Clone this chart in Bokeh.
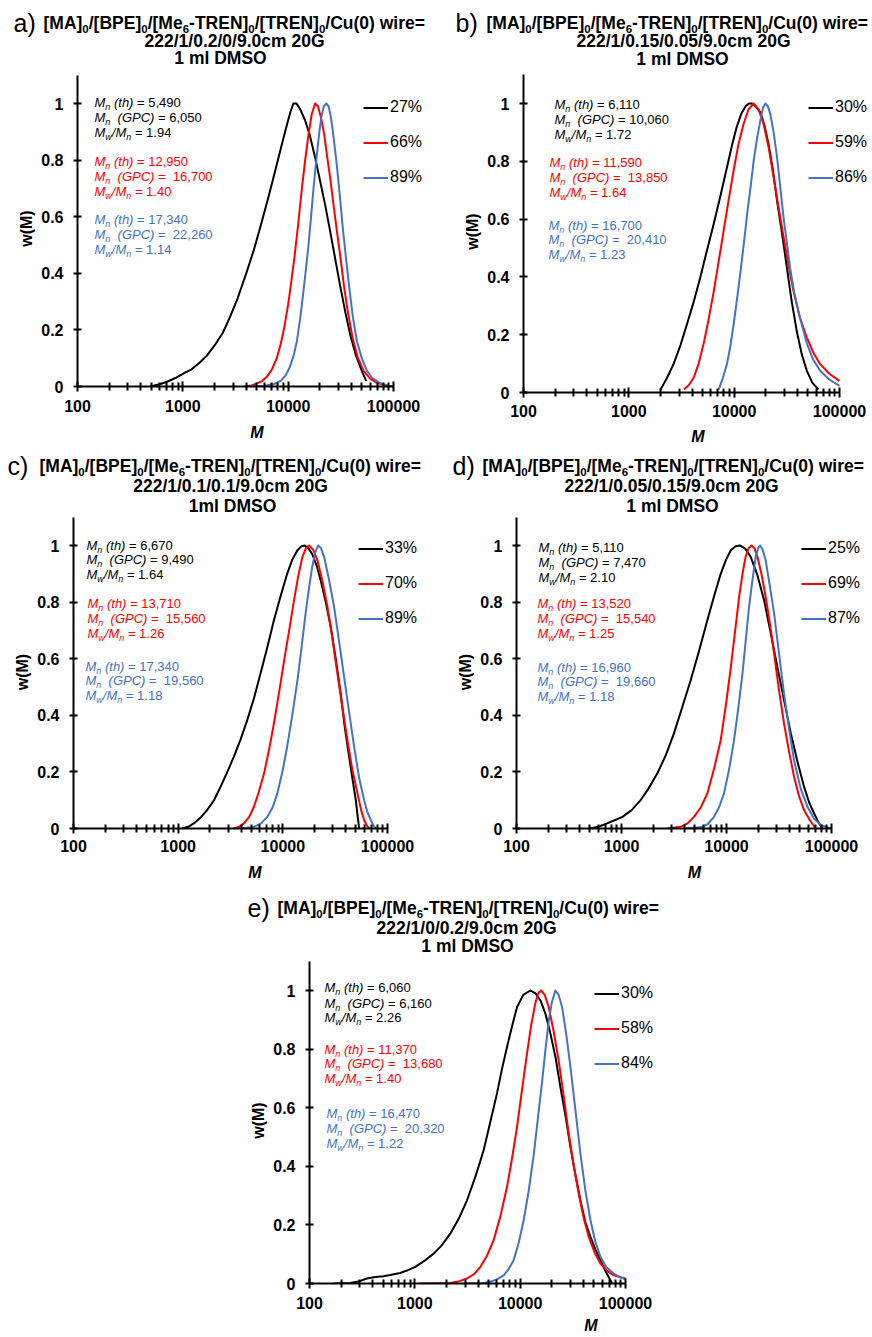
from bokeh.plotting import figure
from bokeh.models import (Range1d, FixedTicker, PrintfTickFormatter, CustomJSTickFormatter,
                          Legend, LegendItem, ColumnDataSource)
from bokeh.layouts import column, row
from bokeh.embed import file_html
from bokeh.resources import INLINE
from bokeh.core.properties import value, field

FONT = "Liberation Sans"
BLACK, RED, BLUE = "#000000", "#FF0000", "#4472C4"

# ---------------- data ----------------
X_TICKS = [100, 1000, 10000, 100000]
X_MINOR = [200, 300, 400, 500, 600, 700, 800, 900,
           2000, 3000, 4000, 5000, 6000, 7000, 8000, 9000,
           20000, 30000, 40000, 50000, 60000, 70000, 80000, 90000]
Y_TICKS = [0, 0.2, 0.4, 0.6, 0.8, 1.0]

# panel a
a_M_27 = [490, 600, 700, 850, 1000, 1200, 1450, 1700, 2000, 2400, 2800, 3300, 4000, 4700, 5500, 6500,
          7500, 8500, 9500, 10500, 11200, 12000, 13000, 14500, 16000, 18000, 20000, 22500, 25000,
          28000, 31000, 35000, 39000, 44000, 50000, 55000]
a_w_27 = [0.0, 0.008, 0.016, 0.03, 0.045, 0.06, 0.085, 0.11, 0.145, 0.19, 0.245, 0.31, 0.40, 0.48,
          0.57, 0.67, 0.76, 0.84, 0.91, 0.97, 1.0, 1.0, 0.98, 0.94, 0.89, 0.81, 0.73, 0.64, 0.55,
          0.45, 0.36, 0.26, 0.18, 0.11, 0.055, 0.02]
a_M_66 = [3900, 4500, 5000, 5700, 6300, 7000, 7800, 8500, 9200, 10000, 10700, 11500, 12500, 13500,
          14500, 15600, 16700, 18000, 19200, 20500, 22000, 23500, 25000, 27000, 29000, 31500, 34000,
          37000, 41000, 46000, 52000, 60000, 70000, 82000, 96000]
a_w_66 = [0.0, 0.004, 0.01, 0.02, 0.035, 0.06, 0.10, 0.15, 0.21, 0.29, 0.37, 0.46, 0.58, 0.70,
          0.80, 0.89, 0.96, 1.0, 0.99, 0.95, 0.89, 0.81, 0.74, 0.64, 0.55, 0.45, 0.35,
          0.26, 0.17, 0.10, 0.055, 0.028, 0.013, 0.005, 0.0]
a_M_89 = [4000, 6000, 7500, 8500, 9500, 10400, 11300, 12100, 13000, 13900, 14800, 15600, 16500,
          17400, 18500, 19500, 20600, 21800, 23000, 24200, 25500, 27000, 29000, 31000, 33000, 35500,
          38000, 41000, 45000, 50000, 56000, 63000, 74000, 86000, 100000]
a_w_89 = [0.0, 0.003, 0.01, 0.02, 0.04, 0.07, 0.11, 0.16, 0.24, 0.33, 0.42, 0.50, 0.60,
          0.70, 0.80, 0.88, 0.95, 0.99, 1.0, 0.99, 0.95, 0.88, 0.78, 0.67, 0.56, 0.45,
          0.35, 0.25, 0.16, 0.10, 0.055, 0.03, 0.013, 0.004, 0.0]

# panel b
b_M_30 = [2000, 2300, 2670, 3100, 3570, 4100, 4780, 5500, 6400, 7400, 8560, 9600, 10600, 11700,
          12800, 13800, 14800, 16000, 17700, 19500, 21200, 23300, 25500, 28500, 31700, 35000, 39400,
          44000, 49000, 55000, 63000]
b_w_30 = [0.01, 0.05, 0.10, 0.165, 0.237, 0.31, 0.40, 0.49, 0.584, 0.68, 0.78, 0.86, 0.92, 0.965,
          0.99, 1.0, 1.0, 0.99, 0.97, 0.92, 0.86, 0.77, 0.665, 0.55, 0.43, 0.32, 0.21,
          0.13, 0.075, 0.035, 0.01]
b_M_59 = [3330, 3700, 4140, 4600, 5140, 5700, 6400, 7100, 7950, 8900, 9900, 11000, 12300, 13700,
          15300, 17000, 19000, 21200, 23700, 26400, 29400, 32800, 36600, 42000, 49000, 57000, 65600,
          80000, 100000]
b_w_59 = [0.01, 0.025, 0.052, 0.10, 0.17, 0.25, 0.35, 0.45, 0.56, 0.67, 0.77, 0.86, 0.93, 0.98,
          1.0, 0.98, 0.93, 0.85, 0.745, 0.64, 0.54, 0.44, 0.35, 0.26, 0.19, 0.135, 0.098,
          0.065, 0.04]
b_M_86 = [7130, 7800, 8560, 9200, 9900, 10700, 11500, 12400, 13300, 14300, 15300, 16500, 17700,
          18800, 19800, 20900, 22000, 23700, 25500, 27400, 29400, 31600, 34000, 37000, 40800, 45000,
          49000, 56000, 65600, 80000, 100000]
b_w_86 = [0.01, 0.05, 0.10, 0.16, 0.237, 0.33, 0.42, 0.52, 0.62, 0.71, 0.80, 0.88, 0.94,
          0.985, 1.0, 0.99, 0.965, 0.90, 0.815, 0.71, 0.607, 0.52, 0.43, 0.35, 0.28, 0.22,
          0.17, 0.115, 0.075, 0.045, 0.023]

# panel c
c_M_33 = [1090, 1250, 1410, 1650, 1890, 2200, 2540, 2950, 3400, 3950, 4570, 5300, 6120, 7100, 8220,
          9500, 11000, 12300, 13800, 15000, 16200, 17600, 19100, 21000, 23000, 25700, 28700, 32000,
          35700, 39000, 43000, 46500, 49800, 52000, 53600]
c_w_33 = [0.0, 0.006, 0.018, 0.04, 0.065, 0.10, 0.147, 0.20, 0.253, 0.315, 0.383, 0.46, 0.548, 0.64,
          0.736, 0.82, 0.90, 0.95, 0.983, 0.997, 1.0, 0.99, 0.97, 0.93, 0.877, 0.80, 0.713, 0.60,
          0.477, 0.36, 0.253, 0.17, 0.10, 0.04, 0.0]
c_M_70 = [3400, 3800, 4250, 4750, 5300, 5900, 6610, 7400, 8220, 9200, 10300, 11500, 12800, 14000,
          15400, 16600, 17800, 19500, 21400, 24000, 26700, 29800, 33200, 37000, 41400, 46000, 51600,
          56000, 59800, 63000, 66800]
c_w_70 = [0.0, 0.005, 0.018, 0.04, 0.077, 0.13, 0.194, 0.28, 0.371, 0.48, 0.595, 0.70, 0.807, 0.89,
          0.96, 0.99, 1.0, 0.985, 0.948, 0.87, 0.783, 0.67, 0.548, 0.43, 0.312, 0.21, 0.124,
          0.065, 0.03, 0.012, 0.0]
c_M_89 = [3950, 5300, 6200, 7100, 8000, 8850, 9900, 11000, 12300, 13800, 15100, 16500, 17800, 19100,
          20400, 21700, 23200, 24800, 27600, 30900, 34500, 38500, 43000, 48000, 53500, 59800, 64000,
          69200, 73000, 77300]
c_w_89 = [0.0, 0.006, 0.018, 0.041, 0.075, 0.124, 0.20, 0.289, 0.40, 0.524, 0.64, 0.76, 0.85, 0.925,
          0.975, 1.0, 0.99, 0.96, 0.88, 0.783, 0.66, 0.536, 0.41, 0.289, 0.18, 0.10, 0.06,
          0.03, 0.012, 0.0]

# panel d
d_M_25 = [507, 620, 730, 870, 1020, 1250, 1520, 1800, 2190, 2650, 3160, 3800, 4560, 5500, 6570, 7600,
          8810, 9900, 11000, 12200, 13400, 15000, 17000, 19700, 22800, 26400, 30500, 35500, 41000,
          47500, 54800, 61500, 68300, 75000, 82000]
d_w_25 = [0.0, 0.008, 0.018, 0.03, 0.041, 0.065, 0.10, 0.14, 0.194, 0.26, 0.336, 0.43, 0.524, 0.63,
          0.736, 0.82, 0.90, 0.95, 0.983, 0.997, 1.0, 0.99, 0.96, 0.895, 0.807, 0.69, 0.571, 0.45,
          0.336, 0.235, 0.147, 0.09, 0.053, 0.022, 0.0]
d_M_69 = [2730, 3660, 4250, 4900, 5700, 6570, 7600, 8810, 9900, 11000, 12100, 13200, 14200, 15200,
          16200, 17300, 18500, 19700, 21500, 23600, 26000, 28400, 31600, 35300, 39500, 44000, 49000,
          54800, 62000, 70800]
d_w_69 = [0.0, 0.006, 0.018, 0.041, 0.075, 0.124, 0.21, 0.312, 0.44, 0.571, 0.70, 0.819, 0.90, 0.96,
          0.99, 1.0, 0.99, 0.96, 0.90, 0.819, 0.72, 0.618, 0.49, 0.371, 0.27, 0.183, 0.115,
          0.065, 0.03, 0.0]
d_M_87 = [3940, 5680, 6600, 7600, 8500, 9470, 10600, 11800, 13000, 14200, 15300, 16400, 17700, 19000,
          20000, 20900, 22100, 23600, 25800, 28400, 31600, 35300, 39500, 44000, 51000, 59000, 68000,
          79100, 98400]
d_w_87 = [0.0, 0.004, 0.015, 0.041, 0.075, 0.124, 0.21, 0.312, 0.43, 0.548, 0.67, 0.783, 0.88, 0.96,
          0.99, 1.0, 0.985, 0.948, 0.86, 0.76, 0.62, 0.477, 0.35, 0.241, 0.14, 0.077, 0.035,
          0.012, 0.0]

# panel e
e_M_30 = [169, 243, 300, 350, 420, 505, 600, 727, 850, 1010, 1230, 1510, 1800, 2170, 2600, 3130, 3800,
          4500, 5200, 6020, 6700, 7500, 8400, 9330, 10700, 12500, 14000, 15600, 17400, 19400, 21700,
          24100, 27000, 30000, 33500, 37300, 41500, 46500, 52000, 57800, 65000, 74700]
e_w_30 = [0.0, 0.002, 0.008, 0.017, 0.022, 0.025, 0.03, 0.036, 0.045, 0.057, 0.077, 0.102, 0.13, 0.17,
          0.22, 0.284, 0.37, 0.455, 0.55, 0.648, 0.73, 0.807, 0.88, 0.943, 0.985, 1.0, 0.99, 0.966,
          0.92, 0.852, 0.77, 0.67, 0.57, 0.466, 0.37, 0.284, 0.21, 0.159, 0.115, 0.08, 0.04, 0.0]
e_M_58 = [1090, 2170, 2650, 3130, 3650, 4190, 4850, 5600, 6500, 7500, 8400, 9330, 10400, 11600, 12700,
          13900, 14800, 15800, 17100, 18700, 20800, 23200, 25900, 28900, 32300, 36000, 40000, 44800,
          51000, 57800, 67000, 77400, 88000, 100000]
e_w_58 = [0.0, 0.002, 0.008, 0.017, 0.032, 0.057, 0.095, 0.148, 0.23, 0.33, 0.43, 0.534, 0.66, 0.784,
          0.88, 0.955, 0.99, 1.0, 0.985, 0.943, 0.86, 0.761, 0.64, 0.511, 0.40, 0.307, 0.225, 0.159,
          0.105, 0.068, 0.043, 0.028, 0.022, 0.017]
e_M_84 = [2900, 4500, 5210, 6000, 6980, 7800, 8690, 9700, 10800, 12100, 13500, 14800, 16200, 17400,
          18700, 20000, 21600, 23200, 25000, 27400, 30000, 33500, 37300, 41500, 46500, 51500, 57800,
          66000, 77400, 88000, 100000]
e_w_84 = [0.0, 0.002, 0.006, 0.014, 0.028, 0.05, 0.08, 0.14, 0.216, 0.32, 0.443, 0.57, 0.693, 0.80,
          0.898, 0.96, 1.0, 0.985, 0.943, 0.85, 0.739, 0.59, 0.443, 0.32, 0.216, 0.145, 0.091,
          0.055, 0.034, 0.022, 0.014]

# annotation values: (Mn th, Mn GPC, Mw/Mn) for black, red, blue
a_ann = [("5,490", "6,050", "1.94"), ("12,950", "16,700", "1.40"), ("17,340", "22,260", "1.14")]
b_ann = [("6,110", "10,060", "1.72"), ("11,590", "13,850", "1.64"), ("16,700", "20,410", "1.23")]
c_ann = [("6,670", "9,490", "1.64"), ("13,710", "15,560", "1.26"), ("17,340", "19,560", "1.18")]
d_ann = [("5,110", "7,470", "2.10"), ("13,520", "15,540", "1.25"), ("16,960", "19,660", "1.18")]
e_ann = [("6,060", "6,160", "2.26"), ("11,370", "13,680", "1.40"), ("16,470", "20,320", "1.22")]

conditions = ["222/1/0.2/0/9.0cm 20G", "222/1/0.15/0.05/9.0cm 20G", "222/1/0.1/0.1/9.0cm 20G",
              "222/1/0.05/0.15/9.0cm 20G", "222/1/0/0.2/9.0cm 20G"]
solvents = ["1 ml DMSO", "1 ml DMSO", "1ml DMSO", "1 ml DMSO", "1 ml DMSO"]
letters = ["a)", "b)", "c)", "d)", "e)"]

# ---------------- text metrics (Arial-compatible) ----------------
REG_W = {' ': 278, '%': 889, '(': 333, ')': 333, ',': 278, '-': 333, '.': 278, '/': 278, '=': 584,
         '[': 278, ']': 278, 'A': 667, 'B': 667, 'C': 722, 'D': 722, 'E': 667, 'G': 778, 'M': 833,
         'N': 722, 'O': 778, 'P': 667, 'R': 722, 'S': 667, 'T': 611, 'a': 556, 'c': 500, 'd': 556,
         'e': 556, 'h': 556, 'i': 222, 'l': 222, 'm': 833, 'n': 556, 'r': 333, 't': 278, 'u': 556,
         'w': 722}
BOLD_W = {' ': 278, '%': 889, '(': 333, ')': 333, ',': 278, '-': 333, '.': 278, '/': 278, '=': 584,
          '[': 333, ']': 333, 'A': 722, 'B': 722, 'C': 722, 'D': 722, 'E': 667, 'G': 778, 'M': 833,
          'N': 722, 'O': 778, 'P': 667, 'R': 722, 'S': 667, 'T': 611, 'a': 556, 'c': 556, 'd': 611,
          'e': 556, 'h': 611, 'i': 278, 'l': 278, 'm': 889, 'n': 611, 'r': 389, 't': 333, 'u': 611,
          'w': 778}


def tw(s, size, bold=False):
    t = BOLD_W if bold else REG_W
    return sum(t.get(ch, 556) for ch in s) * size / 1000.0


def run(items, x0, y, color, out):
    x = x0
    for text, size, style, dy in items:
        bold = "bold" in style
        stripped = text.lstrip(" ")
        x += (len(text) - len(stripped)) * tw(" ", size, bold)
        out.append(dict(text=stripped, px=x, py=y + dy, size=size, style=style, color=color, align="left"))
        x += tw(stripped, size, bold)
    return x


AS, SS, SDY = 13, 9, 4          # annotation size, subscript size, subscript shift
TS, TSS, TDY = 17.5, 11.5, 6    # title size, title subscript size, shift


def ann_block(vals, x0, ys, color, double, out):
    th, gpc, disp = vals
    run([("M", AS, "italic", 0), ("n", SS, "italic", SDY), (" (th)", AS, "italic", 0),
         (" =", AS, "normal", 0), (" " + th, AS, "normal", 0)], x0, ys[0], color, out)
    run([("M", AS, "italic", 0), ("n", SS, "italic", SDY), ("  (GPC)", AS, "italic", 0),
         (" =", AS, "normal", 0), (("  " if double else " ") + gpc, AS, "normal", 0)], x0, ys[1], color, out)
    run([("M", AS, "italic", 0), ("w", SS, "italic", SDY), ("/M", AS, "italic", 0),
         ("n", SS, "italic", SDY), (" =", AS, "normal", 0), (" " + disp, AS, "normal", 0)], x0, ys[2], color, out)


def title_block(letter, cond, solv, T, out):
    out.append(dict(text=letter, px=T["lx"], py=T["y1"], size=25, style="normal", color=BLACK, align="left"))
    run([("[MA]", TS, "bold", 0), ("0", TSS, "bold", TDY), ("/[BPE]", TS, "bold", 0), ("0", TSS, "bold", TDY),
         ("/[Me", TS, "bold", 0), ("6", TSS, "bold", TDY), ("-TREN]", TS, "bold", 0), ("0", TSS, "bold", TDY),
         ("/[TREN]", TS, "bold", 0), ("0", TSS, "bold", TDY), ("/Cu(0) wire=", TS, "bold", 0)],
        T["x1"], T["y1"], BLACK, out)
    out.append(dict(text=cond, px=T["c2"], py=T["y2"], size=TS, style="bold", color=BLACK, align="center"))
    out.append(dict(text=solv, px=T["c3"], py=T["y3"], size=TS, style="bold", color=BLACK, align="center"))


# geometry in page pixels: panel box (ox, oy, w), title strip height th, frame edges, tick positions
PANELS = [
    dict(series=[(a_M_27, a_w_27, "27%"), (a_M_66, a_w_66, "66%"), (a_M_89, a_w_89, "89%")], ann=a_ann,
         ox=0, oy=0, w=436, th=70, left=77, right=436, bottom=386, x5=393, y1=103, bb=62, s1=8, s2=9,
         leg=(286, 191.5), annx=(94, 94, 94), anny=((102, 117, 132), (161, 176, 191), (219, 234, 249)),
         T=dict(lx=13, x1=43, y1=22, c2=234, y2=40, c3=220, y3=57)),
    dict(series=[(b_M_30, b_w_30, "30%"), (b_M_59, b_w_59, "59%"), (b_M_86, b_w_86, "86%")], ann=b_ann,
         ox=436, oy=0, w=436, th=70, left=523, right=872, bottom=392, x5=839, y1=103, bb=56, s1=7, s2=8,
         leg=(285, 197.5), annx=(554, 549, 548), anny=((104, 119, 134), (162, 177, 192), (225, 239, 254)),
         T=dict(lx=455, x1=486, y1=22, c2=683, y2=40, c3=682, y3=58)),
    dict(series=[(c_M_33, c_w_33, "33%"), (c_M_70, c_w_70, "70%"), (c_M_89, c_w_89, "89%")], ann=c_ann,
         ox=0, oy=448, w=436, th=67, left=73, right=436, bottom=828, x5=387, y1=545, bb=56, s1=6, s2=9,
         leg=(285, 192.5), annx=(86, 87, 85), anny=((545, 559, 574), (603, 618, 633), (666, 680, 695)),
         T=dict(lx=7, x1=39, y1=465, c2=230, y2=485, c3=232, y3=505)),
    dict(series=[(d_M_25, d_w_25, "25%"), (d_M_69, d_w_69, "69%"), (d_M_87, d_w_87, "87%")], ann=d_ann,
         ox=436, oy=448, w=436, th=67, left=516, right=872, bottom=828, x5=831, y1=545, bb=56, s1=6, s2=9,
         leg=(285, 192.5), annx=(538, 537, 537), anny=((547, 562, 577), (603, 618, 633), (667, 681, 696)),
         T=dict(lx=452, x1=482, y1=465, c2=671, y2=485, c3=672, y3=505)),
    dict(series=[(e_M_30, e_w_30, "30%"), (e_M_58, e_w_58, "58%"), (e_M_84, e_w_84, "84%")], ann=e_ann,
         ox=0, oy=884, w=872, th=73, left=309, right=872, bottom=1283, x5=625, y1=990, bb=54, s1=8, s2=5,
         leg=(285, 202.5), annx=(324, 324, 326), anny=((987, 1003, 1017), (1049, 1063, 1078), (1113, 1128, 1143)),
         T=dict(lx=247, x1=277, y1=907, c2=466, y2=927, c3=467, y3=945)),
]

COLORS = [BLACK, RED, BLUE]


def text_source(out, x, y, ax, ay):
    return ColumnDataSource(dict(
        x=[x] * len(out), y=[y] * len(out),
        text=[o["text"] for o in out],
        dx=[o["px"] - ax for o in out],
        dy=[o["py"] - ay for o in out],
        size=["%gpx" % o["size"] for o in out],
        style=[o["style"] for o in out],
        color=[o["color"] for o in out],
        align=[o["align"] for o in out],
    ))


def add_text(p, src):
    p.text(x="x", y="y", text="text", source=src, x_offset=field("dx"), y_offset=field("dy"),
           text_font=value(FONT), text_font_size=field("size"), text_font_style=field("style"),
           text_color=field("color"), text_align=field("align"), text_baseline=value("middle"))


def make_title(i, P):
    W, H = P["w"], P["th"]
    t = figure(width=W, height=H, x_range=Range1d(0, W), y_range=Range1d(H, 0),
               min_border=0, toolbar_location=None, output_backend="svg", title=None,
               x_axis_location=None, y_axis_location=None, frame_align=False)
    t.outline_line_color = None
    t.xgrid.visible = False
    t.ygrid.visible = False
    out = []
    title_block(letters[i], conditions[i], solvents[i], P["T"], out)
    add_text(t, text_source(out, W / 2, H / 2, P["ox"] + W / 2, P["oy"] + H / 2))
    return t


def make_panel(i, P):
    top = P["oy"] + P["th"]
    fw = P["right"] - P["left"]
    fh = P["bottom"] - top
    ppd = (P["x5"] - P["left"]) / 3.0
    ppu = P["bottom"] - P["y1"]
    xend = 10 ** (2 + fw / ppd)
    yend = fh / ppu
    p = figure(x_axis_type="log", x_range=Range1d(100, xend), y_range=Range1d(0, yend),
               frame_width=fw, frame_height=fh,
               min_border_left=P["left"] - P["ox"], min_border_right=P["ox"] + P["w"] - P["right"],
               min_border_top=0, min_border_bottom=P["bb"], frame_align=False,
               toolbar_location=None, output_backend="svg", title=None)
    p.outline_line_color = None
    p.xgrid.visible = False
    p.ygrid.visible = False
    p.background_fill_color = "white"
    p.border_fill_color = "white"

    xa = p.xaxis[0]
    xa.ticker = FixedTicker(ticks=X_TICKS, minor_ticks=X_MINOR)
    xa.formatter = PrintfTickFormatter(format="%d")
    xa.bounds = (100, 100000)
    xa.axis_line_width = 2
    xa.major_tick_line_width = 2
    xa.minor_tick_line_width = 2
    xa.major_tick_in = 5
    xa.major_tick_out = 5
    xa.minor_tick_in = 4
    xa.minor_tick_out = 4
    xa.major_label_text_font = FONT
    xa.major_label_text_font_size = "16px"
    xa.major_label_text_font_style = "bold"
    xa.major_label_text_color = BLACK
    xa.major_label_standoff = P["s1"]
    xa.axis_label = "M"
    xa.axis_label_text_font = FONT
    xa.axis_label_text_font_size = "16px"
    xa.axis_label_text_font_style = "bold italic"
    xa.axis_label_text_color = BLACK
    xa.axis_label_standoff = P["s2"]

    ya = p.yaxis[0]
    ya.ticker = FixedTicker(ticks=Y_TICKS)
    ya.formatter = CustomJSTickFormatter(code="return String(tick)")
    ya.bounds = (0, 1.1)
    ya.axis_line_width = 2
    ya.major_tick_line_width = 2
    ya.major_tick_in = 4
    ya.major_tick_out = 4
    ya.minor_tick_line_color = None
    ya.major_label_text_font = FONT
    ya.major_label_text_font_size = "16px"
    ya.major_label_text_font_style = "bold"
    ya.major_label_text_color = BLACK
    ya.major_label_standoff = 10
    ya.axis_label = "w(M)"
    ya.axis_label_text_font = FONT
    ya.axis_label_text_font_size = "16px"
    ya.axis_label_text_font_style = "bold"
    ya.axis_label_text_color = BLACK
    ya.axis_label_standoff = 3

    items = []
    for (M, w, lab), col in zip(P["series"], COLORS):
        r = p.line(M, w, line_color=col, line_width=2, line_join="round")
        items.append(LegendItem(label=value(lab), renderers=[r]))
    leg = Legend(items=items, location=P["leg"], orientation="vertical", padding=0, margin=0,
                 spacing=0, glyph_width=25, glyph_height=35, label_height=35, label_standoff=2,
                 label_text_font=FONT, label_text_font_size="16px", label_text_color=BLACK,
                 border_line_alpha=0, background_fill_alpha=0)
    p.add_layout(leg)

    out = []
    for k, (vals, col) in enumerate(zip(P["ann"], COLORS)):
        ann_block(vals, P["annx"][k], P["anny"][k], col, k > 0, out)
    ax = P["left"] + ppd
    ay = P["bottom"] - 0.5 * ppu
    add_text(p, text_source(out, 1000, 0.5, ax, ay))
    return p


cols = [column(make_title(i, P), make_panel(i, P)) for i, P in enumerate(PANELS)]
layout = column(row(cols[0], cols[1]), row(cols[2], cols[3]), cols[4])

open("out.html", "w").write(file_html(layout, INLINE, "GPC distributions"))
